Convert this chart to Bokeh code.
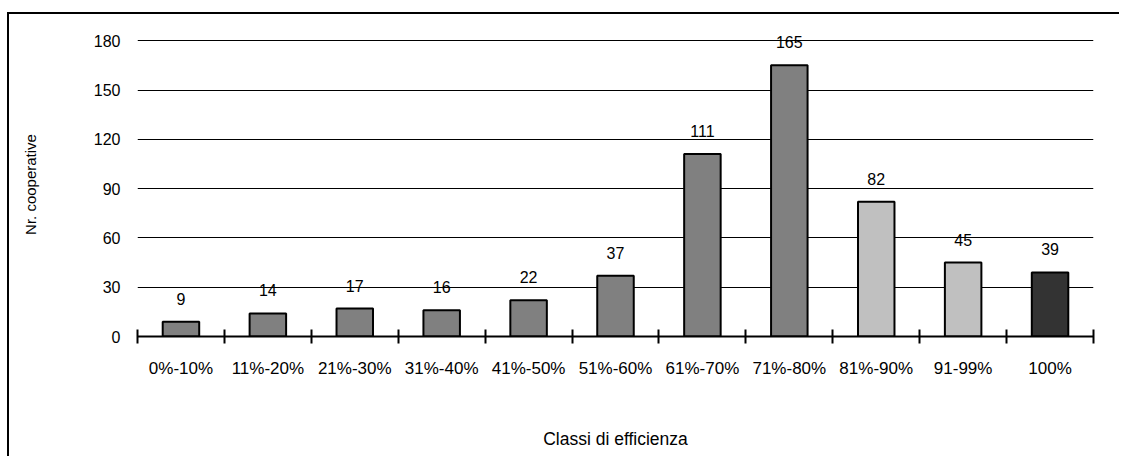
from bokeh.plotting import figure
from bokeh.models import FixedTicker, ColumnDataSource, Range1d
from bokeh.core.properties import value
from bokeh.embed import file_html
from bokeh.resources import INLINE

categories = ["0%-10%", "11%-20%", "21%-30%", "31%-40%", "41%-50%", "51%-60%",
              "61%-70%", "71%-80%", "81%-90%", "91-99%", "100%"]
counts = [9, 14, 17, 16, 22, 37, 111, 165, 82, 45, 39]
colors = ["#808080"] * 8 + ["#C0C0C0", "#C0C0C0", "#333333"]
y_ticks = [0, 30, 60, 90, 120, 150, 180]

n = len(categories)
xs = [i + 0.5 for i in range(n)]
src = ColumnDataSource(dict(x=xs, top=counts, color=colors,
                            label=[str(c) for c in counts]))

FONT = "Liberation Sans"

p = figure(width=1112, height=444, output_backend="svg", toolbar_location=None,
           x_range=Range1d(0, n), y_range=Range1d(0, 185),
           min_border_left=128, min_border_right=28,
           min_border_top=18, min_border_bottom=122)
p.outline_line_color = None
p.background_fill_color = "white"
p.border_fill_color = "white"

p.vbar(x="x", top="top", width=0.42, bottom=0, source=src,
       fill_color="color", line_color="black", line_width=2)
p.text(x="x", y="top", text="label", source=src, text_align="center",
       text_baseline="middle", y_offset=-23, text_font=value(FONT),
       text_font_size="16px", text_color="black")

# x axis
xa = p.xaxis[0]
xa.ticker = FixedTicker(ticks=xs, minor_ticks=list(range(n + 1)))
xa.major_label_overrides = {x: c for x, c in zip(xs, categories)}
xa.major_tick_in = 0
xa.major_tick_out = 0
xa.minor_tick_in = 7
xa.minor_tick_out = 7
xa.minor_tick_line_color = "black"
xa.minor_tick_line_width = 2
xa.axis_line_color = "black"
xa.axis_line_width = 2
xa.major_label_text_font = FONT
xa.major_label_text_font_size = "17px"
xa.major_label_text_color = "black"
xa.major_label_standoff = 15
xa.axis_label = "Classi di efficienza"
xa.axis_label_text_font = FONT
xa.axis_label_text_font_size = "17.5px"
xa.axis_label_text_font_style = "normal"
xa.axis_label_text_color = "black"
xa.axis_label_standoff = 48

# y axis
ya = p.yaxis[0]
ya.ticker = FixedTicker(ticks=y_ticks)
ya.axis_line_color = None
ya.major_tick_line_color = None
ya.minor_tick_line_color = None
ya.major_tick_in = 0
ya.major_tick_out = 0
ya.major_label_text_font = FONT
ya.major_label_text_font_size = "16px"
ya.major_label_text_color = "black"
ya.major_label_standoff = 17
ya.axis_label = "Nr. cooperative"
ya.axis_label_text_font = FONT
ya.axis_label_text_font_size = "15px"
ya.axis_label_text_font_style = "normal"
ya.axis_label_text_color = "black"
ya.axis_label_standoff = 52

p.xgrid.grid_line_color = None
p.ygrid.ticker = FixedTicker(ticks=y_ticks[1:])
p.ygrid.grid_line_color = "black"
p.ygrid.grid_line_width = 1

p.styles = {"margin-top": "14px", "margin-left": "9px",
            "box-shadow": "-2px -2px 0 0 black"}

open("out.html", "w").write(file_html(p, INLINE))
